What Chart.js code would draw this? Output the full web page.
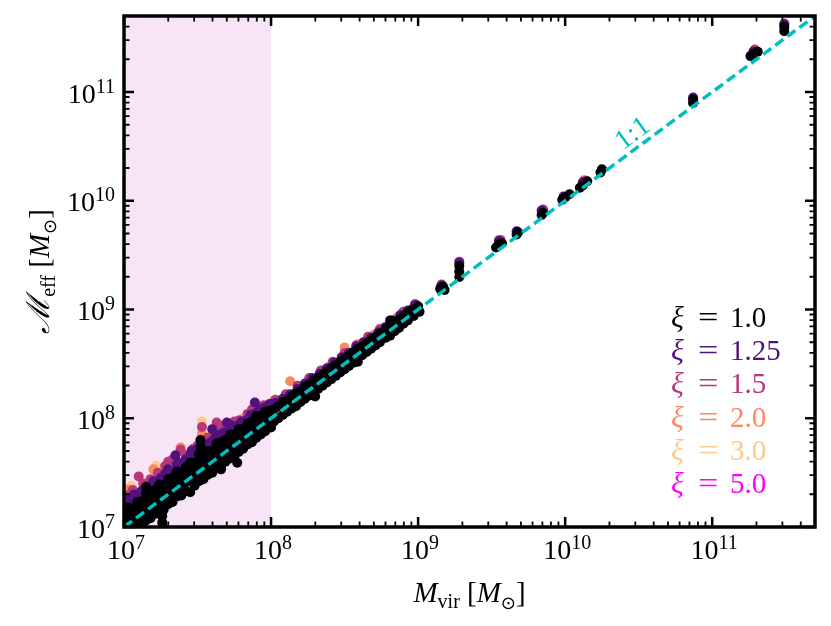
<!DOCTYPE html>
<html>
<head>
<meta charset="utf-8">
<script src="https://cdn.jsdelivr.net/npm/chart.js@4.4.1/dist/chart.umd.min.js"></script>
<style>
  html, body { margin: 0; padding: 0; background: #fff; }
  #wrap { width: 831px; height: 626px; }
</style>
</head>
<body>
<div id="wrap"><canvas id="massChart" width="831" height="626"></canvas></div>
<script>
// axis range (both axes, solar masses)
const axisMin = 1e7;
const axisMax = 5e11;
const tickExponents = [7, 8, 9, 10, 11];
const shadeUpTo = 1e8;
const oneToOne = [1e7, 5e11];

const xiLabels = ["1.0", "1.25", "1.5", "2.0", "3.0", "5.0"];
const xiColors = ["#000004", "#51127c", "#b73779", "#fc8961", "#fec98d", "#ff00ff"];

// [log10 Mvir, log10 Meff]
const xi100 = [
  [7.00,7.13],[7.00,7.06],[7.00,6.99],[7.00,6.92],
  [7.03,7.18],[7.03,7.10],[7.03,7.03],[7.03,6.94],
  [7.06,7.17],[7.06,7.11],[7.06,7.04],[7.06,6.96],
  [7.09,7.23],[7.09,7.16],[7.09,7.08],[7.09,7.01],
  [7.12,7.24],[7.12,7.17],[7.12,7.09],[7.12,7.01],
  [7.15,7.37],[7.15,7.31],[7.15,7.21],[7.15,7.14],[7.15,7.06],
  [7.18,7.28],[7.18,7.22],[7.18,7.16],[7.18,7.08],
  [7.21,7.34],[7.21,7.27],[7.21,7.20],[7.21,7.12],
  [7.24,7.39],[7.24,7.31],[7.24,7.24],[7.24,7.16],
  [7.26,7.10],[7.26,7.04],[7.27,6.98],
  [7.27,7.38],[7.27,7.32],[7.27,7.25],[7.27,7.16],
  [7.30,7.44],[7.30,7.36],[7.30,7.29],[7.30,7.21],
  [7.33,7.45],[7.33,7.38],[7.33,7.31],[7.33,7.23],
  [7.36,7.51],[7.36,7.43],[7.36,7.36],[7.36,7.28],
  [7.39,7.49],[7.39,7.43],[7.39,7.36],[7.39,7.29],
  [7.42,7.55],[7.42,7.48],[7.42,7.41],[7.42,7.33],
  [7.45,7.59],[7.45,7.51],[7.45,7.43],[7.45,7.32],
  [7.48,7.59],[7.48,7.53],[7.48,7.46],[7.48,7.38],
  [7.51,7.67],[7.51,7.58],[7.51,7.50],[7.51,7.42],[7.52,7.74],[7.52,7.80],
  [7.54,7.66],[7.54,7.59],[7.54,7.52],[7.54,7.44],
  [7.57,7.70],[7.57,7.63],[7.57,7.56],[7.57,7.48],
  [7.60,7.70],[7.60,7.64],[7.60,7.58],[7.60,7.50],
  [7.63,7.77],[7.63,7.69],[7.63,7.62],[7.63,7.54],[7.66,7.53],
  [7.66,7.78],[7.66,7.71],[7.66,7.64],[7.66,7.56],
  [7.69,7.80],[7.69,7.74],[7.69,7.68],[7.69,7.60],
  [7.72,7.85],[7.72,7.78],[7.72,7.71],[7.72,7.63],
  [7.75,7.85],[7.75,7.79],[7.75,7.73],[7.75,7.64],[7.77,7.59],
  [7.78,7.90],[7.78,7.83],[7.78,7.77],[7.78,7.69],
  [7.81,7.90],[7.81,7.85],[7.81,7.79],[7.81,7.72],
  [7.84,7.95],[7.84,7.89],[7.84,7.83],[7.84,7.76],
  [7.87,7.97],[7.87,7.91],[7.87,7.85],[7.87,7.78],
  [7.90,8.02],[7.90,7.95],[7.90,7.89],[7.90,7.82],
  [7.93,8.02],[7.93,7.97],[7.93,7.91],[7.93,7.85],
  [7.96,8.06],[7.96,8.00],[7.96,7.95],[7.96,7.88],
  [7.99,8.07],[7.99,8.02],[7.99,7.97],[8.00,7.915],
  [8.02,8.08],[8.02,7.97],[8.05,8.11],[8.05,8.00],[8.08,8.15],[8.08,8.03],
  [8.11,8.16],[8.11,8.06],[8.14,8.20],[8.14,8.09],[8.17,8.23],[8.17,8.11],
  [8.20,8.25],[8.20,8.15],[8.23,8.29],[8.23,8.18],[8.26,8.31],[8.26,8.21],
  [8.29,8.35],[8.29,8.24],[8.30,8.20],[8.32,8.37],[8.32,8.27],[8.35,8.40],[8.35,8.30],
  [8.38,8.43],[8.38,8.33],[8.41,8.46],[8.41,8.36],[8.44,8.49],[8.44,8.39],
  [8.47,8.52],[8.47,8.42],[8.50,8.55],[8.50,8.45],[8.53,8.58],[8.53,8.48],
  [8.56,8.61],[8.56,8.51],[8.59,8.52],[8.59,8.64],[8.62,8.66],[8.62,8.58],
  [8.65,8.69],[8.65,8.61],[8.68,8.72],[8.68,8.64],[8.71,8.75],[8.71,8.67],
  [8.74,8.78],[8.74,8.70],[8.78,8.82],[8.78,8.74],[8.81,8.90],[8.81,8.85],[8.81,8.76],
  [8.83,8.87],[8.84,8.80],[8.87,8.91],[8.87,8.83],[8.90,8.94],[8.90,8.87],
  [8.93,8.97],[8.93,8.90],[8.96,9.00],[8.97,8.94],[9.00,9.03],[9.01,8.98],
  [9.15,9.19],[9.17,9.21],[9.18,9.18],[9.28,9.30],[9.28,9.35],[9.28,9.40],
  [9.53,9.57],[9.55,9.60],[9.57,9.61],[9.67,9.69],[9.68,9.71],
  [9.84,9.87],[9.85,9.89],[9.98,10.01],[10.00,10.03],[10.03,10.06],
  [10.10,10.12],[10.12,10.14],[10.15,10.18],[10.24,10.26],[10.25,10.29],
  [10.87,10.93],[10.87,10.90],[11.26,11.33],[11.28,11.35],[11.31,11.37],
  [11.49,11.56],[11.49,11.60]
];

const xi125 = [
  [7.00,7.20],[7.02,7.26],[7.05,7.22],[7.07,7.30],[7.10,7.27],[7.12,7.33],
  [7.15,7.32],[7.17,7.36],[7.20,7.42],[7.22,7.38],[7.25,7.45],[7.28,7.49],
  [7.30,7.53],[7.33,7.52],[7.36,7.58],[7.39,7.59],[7.42,7.62],[7.45,7.66],
  [7.48,7.64],[7.50,7.72],[7.53,7.78],[7.56,7.75],[7.59,7.78],[7.62,7.82],
  [7.65,7.85],[7.68,7.87],[7.72,7.94],[7.74,7.90],[7.77,7.93],[7.80,7.97],
  [7.83,7.98],[7.86,8.03],[7.89,8.145],[7.90,8.05],[7.93,8.08],[7.96,8.10],[7.99,8.13],
  [7.03,7.21],[7.08,7.25],[7.13,7.28],[7.18,7.31],[7.23,7.36],[7.27,7.40],
  [7.32,7.46],[7.37,7.50],[7.41,7.55],[7.46,7.58],[7.51,7.64],[7.55,7.70],
  [7.60,7.74],[7.64,7.80],[7.69,7.82],[7.73,7.86],[7.78,7.89],[7.82,7.94],
  [7.87,7.98],[7.92,8.02],[7.97,8.06],[7.35,7.66],[7.60,7.90],[7.70,7.96],[7.46,7.70],
  [8.03,8.14],[8.08,8.18],[8.13,8.22],[8.18,8.27],[8.23,8.32],[8.28,8.37],
  [8.33,8.41],[8.38,8.46],[8.43,8.51],[8.48,8.56],[8.53,8.60],[8.58,8.66],
  [8.63,8.70],[8.68,8.74],[8.73,8.79],[8.78,8.84],[8.83,8.90],[8.88,8.95],
  [8.93,8.99],[8.98,9.04],
  [9.16,9.22],[9.28,9.43],[9.55,9.63],[9.67,9.72],[9.84,9.91],[9.99,10.04],
  [10.12,10.17],[10.87,10.95],[11.28,11.37],[11.49,11.62]
];

const xi150 = [
  [7.01,7.28],[7.06,7.34],[7.10,7.465],[7.13,7.40],[7.18,7.44],[7.23,7.50],
  [7.28,7.56],[7.33,7.62],[7.385,7.71],[7.42,7.66],[7.47,7.72],[7.53,7.92],
  [7.57,7.82],[7.63,7.96],[7.67,7.88],[7.72,7.90],[7.78,7.98],[7.84,8.04],
  [7.89,8.05],[7.95,8.12],[7.04,7.30],[7.30,7.60],[7.50,7.75],[7.66,7.93],
  [7.75,7.97],[7.87,8.08],
  [8.03,8.17],[8.10,8.22],[8.18,8.30],[8.26,8.37],
  [8.34,8.44],[8.42,8.52],[8.50,8.60],[8.58,8.67],[8.66,8.75],[8.74,8.82],
  [8.82,8.90],[8.90,8.98],[8.98,9.05],
  [9.16,9.23],[9.28,9.44],[9.56,9.64],[9.85,9.92],[10.13,10.18],[11.29,11.39],[11.49,11.63]
];

const xi200 = [
  [7.03,7.345],[7.08,7.30],[7.20,7.53],[7.25,7.47],[7.385,7.73],[7.47,7.68],
  [7.53,7.86],[7.60,7.84],[7.70,7.92],[7.80,7.99],[7.92,8.08],[8.02,8.16],
  [8.13,8.34],[8.22,8.30],[8.40,8.48],[8.50,8.65],[8.59,8.68],[8.70,8.77],
  [8.86,8.93],[9.55,9.64],[10.13,10.19]
];

const xi300 = [
  [7.05,7.38],[7.22,7.56],[7.53,7.97],[7.76,7.93],[8.05,8.13],[8.28,8.36]
];

const xi500 = [
  [7.10,7.12],[7.40,7.40],[7.80,7.80],[8.20,8.19],[8.60,8.59],[9.00,9.00]
];

const seriesData = [xi100, xi125, xi150, xi200, xi300, xi500];

const toPoints = (arr) => arr.map(([lx, ly]) => ({ x: 10 ** lx, y: 10 ** ly }));

const SERIF = '"Liberation Serif", "DejaVu Serif", serif';
const CYAN = "#00bfbf";

// draw a list of text pieces one after the other
function drawRuns(ctx, runs, x, y, align) {
  let total = 0;
  runs.forEach((r) => {
    ctx.font = r.font;
    r.w = ctx.measureText(r.t).width;
    total += r.w;
  });
  let cx = x;
  if (align === "center") cx = x - total / 2;
  if (align === "right") cx = x - total;
  runs.forEach((r) => {
    ctx.font = r.font;
    ctx.fillStyle = r.color || "#000";
    ctx.fillText(r.t, cx, y + (r.dy || 0));
    cx += r.w;
  });
}

const framePlugin = {
  id: "frame",
  beforeDatasetsDraw(chart) {
    const { ctx, chartArea, scales } = chart;
    const xr = scales.x.getPixelForValue(shadeUpTo);
    ctx.save();
    ctx.fillStyle = "#f8e4f7";
    ctx.fillRect(chartArea.left, chartArea.top, xr - chartArea.left, chartArea.bottom - chartArea.top);
    ctx.restore();
  },
  afterDraw(chart) {
    const { ctx, chartArea: a, scales } = chart;
    const xs = scales.x, ys = scales.y;
    ctx.save();

    // ticks, pointing inward on all sides
    ctx.strokeStyle = "#000";
    tickExponents.forEach((d) => {
      for (let m = 1; m <= 9; m++) {
        const v = m * 10 ** d;
        if (v < axisMin || v > axisMax) continue;
        const major = m === 1;
        const len = major ? 10 : 5.5;
        ctx.lineWidth = major ? 2.5 : 1.8;
        const px = xs.getPixelForValue(v);
        const py = ys.getPixelForValue(v);
        ctx.beginPath();
        ctx.moveTo(px, a.bottom); ctx.lineTo(px, a.bottom - len);
        ctx.moveTo(px, a.top); ctx.lineTo(px, a.top + len);
        ctx.moveTo(a.left, py); ctx.lineTo(a.left + len, py);
        ctx.moveTo(a.right, py); ctx.lineTo(a.right - len, py);
        ctx.stroke();
      }
    });

    ctx.lineWidth = 3.5;
    ctx.strokeRect(a.left, a.top, a.right - a.left, a.bottom - a.top);

    // tick labels
    ctx.textBaseline = "alphabetic";
    const base = "28px " + SERIF;
    const sup = "20px " + SERIF;
    tickExponents.forEach((e) => {
      const v = 10 ** e;
      const runs = () => [
        { t: "10", font: base },
        { t: String(e), font: sup, dy: -10 },
      ];
      drawRuns(ctx, runs(), xs.getPixelForValue(v) + 2, a.bottom + 32, "center");
      drawRuns(ctx, runs(), a.left - 9, ys.getPixelForValue(v) + 10.5, "right");
    });

    // axis titles
    const it = "italic 29px " + SERIF;
    const rm = "29px " + SERIF;
    const sub = "20px " + SERIF;
    const odot = "18px \"DejaVu Sans\"";
    drawRuns(ctx, [
      { t: "M", font: it },
      { t: "vir", font: sub, dy: 6 },
      { t: " [", font: rm },
      { t: "M", font: it },
      { t: "\u2299", font: odot, dy: 7 },
      { t: "]", font: rm },
    ], (a.left + a.right) / 2, 602, "center");

    ctx.save();
    ctx.translate(49, (a.top + a.bottom) / 2);
    ctx.rotate(-Math.PI / 2);
    drawRuns(ctx, [
      { t: "\u2133", font: "italic 32px \"DejaVu Serif\"" },
      { t: "eff", font: sub, dy: 6 },
      { t: " [", font: rm },
      { t: "M", font: it },
      { t: "\u2299", font: odot, dy: 7 },
      { t: "]", font: rm },
    ], 0, 0, "center");
    ctx.restore();

    // 1:1 label along the line
    const p0x = xs.getPixelForValue(1e7), p0y = ys.getPixelForValue(1e7);
    const p1x = xs.getPixelForValue(1e11), p1y = ys.getPixelForValue(1e11);
    const ang = Math.atan2(p1y - p0y, p1x - p0x);
    ctx.save();
    ctx.translate(633, 134);
    ctx.rotate(ang);
    ctx.fillStyle = CYAN;
    ctx.font = "28px " + SERIF;
    ctx.textAlign = "center";
    ctx.textBaseline = "middle";
    ctx.fillText("1:1", 0, 0);
    ctx.restore();

    // xi labels
    const lf = "29px " + SERIF;
    const lfi = "italic 30px " + SERIF;
    xiLabels.forEach((lab, i) => {
      const y = 327 + i * 33.2;
      ctx.fillStyle = xiColors[i];
      ctx.font = lfi;
      ctx.fillText("\u03be", 671, y);
      ctx.font = lf;
      ctx.save();
      ctx.translate(698, y);
      ctx.scale(1.25, 1);
      ctx.fillText("=", 0, 0);
      ctx.restore();
      ctx.fillText(lab, 730, y);
    });

    ctx.restore();
  },
};

const datasets = [
  {
    type: "line",
    data: oneToOne.map((v) => ({ x: v, y: v })),
    borderColor: CYAN,
    borderWidth: 3.5,
    borderDash: [10, 5],
    pointRadius: 0,
    fill: false,
    order: 0,
    clip: 0,
  },
];
seriesData.forEach((s, i) => {
  datasets.push({
    type: "scatter",
    label: "xi = " + xiLabels[i],
    data: toPoints(s),
    backgroundColor: xiColors[i],
    borderWidth: 0,
    pointRadius: 5,
    pointHoverRadius: 5,
    order: i + 1,
    clip: 0,
  });
});

new Chart(document.getElementById("massChart"), {
  type: "scatter",
  data: { datasets },
  options: {
    responsive: false,
    animation: false,
    events: [],
    layout: { padding: { left: 124, right: 16, top: 16, bottom: 99 } },
    plugins: { legend: { display: false }, tooltip: { enabled: false } },
    scales: {
      x: { type: "logarithmic", min: axisMin, max: axisMax, display: false },
      y: { type: "logarithmic", min: axisMin, max: axisMax, display: false },
    },
  },
  plugins: [framePlugin],
});
</script>
</body>
</html>
